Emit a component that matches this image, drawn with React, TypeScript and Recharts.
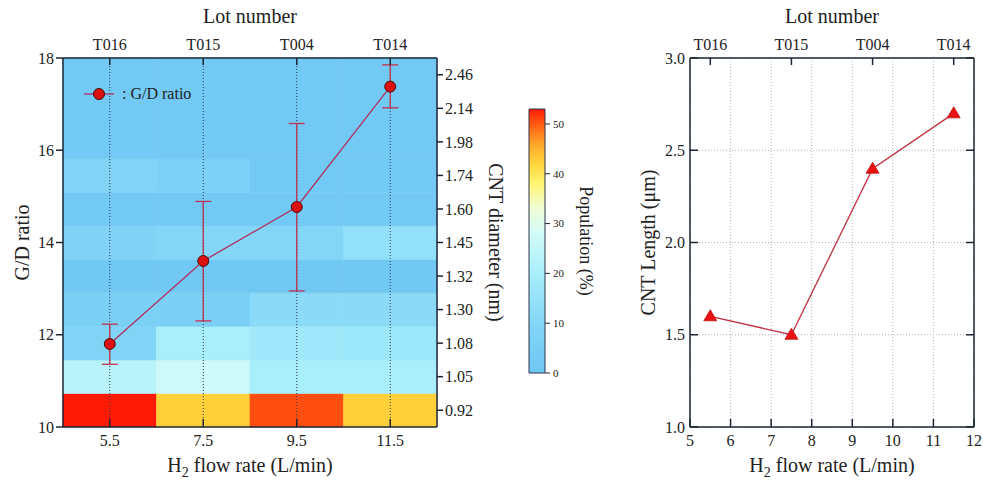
import React from 'react';
import {
  ComposedChart,
  Line,
  XAxis,
  YAxis,
  ReferenceArea,
  ReferenceLine,
  ErrorBar,
  CartesianGrid,
  Label,
} from 'recharts';

// ---------------- data ----------------
const flowRates = [5.5, 7.5, 9.5, 11.5];
const lotNumbers = ['T016', 'T015', 'T004', 'T014'];
const gdRatio = [11.8, 13.6, 14.77, 17.38];
const gdLow = [11.36, 12.3, 12.95, 16.92];
const gdHigh = [12.23, 14.89, 16.58, 17.85];
const cntLength = [1.6, 1.5, 2.4, 2.7];

const diameterLabels = ['0.92', '1.05', '1.08', '1.30', '1.32', '1.45', '1.60', '1.74', '1.98', '2.14', '2.46'];
const populationT016 = [53, 23, 9, 6, 1, 8, 2, 9, 2, 2, 2];
const populationT015 = [42.5, 27, 20, 6, 1, 10, 2, 7, 2, 2, 2];
const populationT004 = [50.5, 20, 18, 12, 1, 10, 2, 2, 2, 2, 2];
const populationT014 = [42.5, 20, 17, 12, 1, 14, 2, 2, 2, 2, 2];
const populationByLot = [populationT016, populationT015, populationT004, populationT014];

const gdTicks = [10, 12, 14, 16, 18];
const lengthTicks = [1.0, 1.5, 2.0, 2.5, 3.0];
const flowTicksRight = [5, 6, 7, 8, 9, 10, 11, 12];
const colorbarTicks = [0, 10, 20, 30, 40, 50];
const populationMax = 53;

const colorStops: [number, string][] = [
  [0, '#6ec6f3'],
  [10, '#84d6f7'],
  [20, '#a8eefb'],
  [28, '#d2fbf8'],
  [33, '#effdd8'],
  [38, '#fff572'],
  [42, '#ffd63c'],
  [46, '#ffa52a'],
  [50, '#ff5a12'],
  [53, '#ff1a06'],
];

// ---------------- helpers ----------------
const FONT = 'Liberation Serif';
const FRAME = '#1c2636';
const TXT = '#222';

const hexToRgb = (h: string) => [
  parseInt(h.slice(1, 3), 16),
  parseInt(h.slice(3, 5), 16),
  parseInt(h.slice(5, 7), 16),
];

const popColor = (v: number) => {
  if (v <= colorStops[0][0]) return colorStops[0][1];
  for (let i = 1; i < colorStops.length; i++) {
    const [v1, c1] = colorStops[i];
    const [v0, c0] = colorStops[i - 1];
    if (v <= v1) {
      const t = (v - v0) / (v1 - v0);
      const a = hexToRgb(c0);
      const b = hexToRgb(c1);
      const m = a.map((x, k) => Math.round(x + (b[k] - x) * t));
      return `rgb(${m[0]},${m[1]},${m[2]})`;
    }
  }
  return colorStops[colorStops.length - 1][1];
};

const gdData = flowRates.map((f, i) => ({
  flow: f,
  gd: gdRatio[i],
  gdErr: [gdRatio[i] - gdLow[i], gdHigh[i] - gdRatio[i]],
}));

const lengthData = flowRates.map((f, i) => ({ flow: f, len: cntLength[i] }));
const colorbarData = [{ x: 0, v: 0 }, { x: 1, v: populationMax }];

const halfStep = (flowRates[1] - flowRates[0]) / 2;
const rowTicks = diameterLabels.map((_, i) => i + 0.5);

const lotFormatter = (v: number) => lotNumbers[flowRates.indexOf(v)] ?? '';

const tickStyle = { fontSize: 16, fill: TXT, fontFamily: FONT };
const lotTickStyle = { fontSize: 16, fill: TXT, fontFamily: FONT };
const lineStyle = { stroke: FRAME, strokeWidth: 1.5 };

const H2Title = () => (
  <>
    <tspan>H</tspan>
    <tspan fontSize={14} dy={5}>2</tspan>
    <tspan dy={-5}> flow rate (L/min)</tspan>
  </>
);

const hTitle = (children: React.ReactNode, dy: number, fb: any) => (props: any) => {
  const vb = props?.viewBox ?? fb;
  return (
    <text
      x={vb.x + vb.width / 2}
      y={vb.y + dy}
      textAnchor="middle"
      fontSize={20}
      fontFamily={FONT}
      fill={TXT}
    >
      {children}
    </text>
  );
};

const vTitle = (children: React.ReactNode, dx: number, angle: number, fb: any, size = 20) => (props: any) => {
  const vb = props?.viewBox ?? fb;
  const cx = vb.x + dx;
  const cy = vb.y + vb.height / 2;
  return (
    <text
      x={cx}
      y={cy}
      transform={`rotate(${angle}, ${cx}, ${cy})`}
      textAnchor="middle"
      dominantBaseline="central"
      fontSize={size}
      fontFamily={FONT}
      fill={TXT}
    >
      {children}
    </text>
  );
};

const Triangle = (props: any) => {
  const { cx, cy } = props;
  if (cx == null || cy == null) return null;
  return (
    <polygon
      points={`${cx},${cy - 6.5} ${cx - 6.5},${cy + 4.5} ${cx + 6.5},${cy + 4.5}`}
      fill="#e81212"
      stroke="#c01010"
      strokeWidth={0.8}
    />
  );
};

// ---------------- charts ----------------
const LeftChart = () => (
  <ComposedChart width={557} height={484} data={gdData} margin={{ top: 0, right: 0, bottom: 0, left: 0 }}>
    <XAxis
      xAxisId="bottom"
      dataKey="flow"
      type="number"
      domain={[4.5, 12.5]}
      ticks={flowRates}
      orientation="bottom"
      height={57}
      tickSize={-8}
      tickMargin={16}
      tick={tickStyle}
      axisLine={lineStyle}
      tickLine={lineStyle}
      allowDataOverflow
    >
      <Label content={hTitle(<H2Title />, 45, { x: 63, y: 427, width: 374, height: 57 })} />
    </XAxis>
    <XAxis
      xAxisId="top"
      dataKey="flow"
      type="number"
      domain={[4.5, 12.5]}
      ticks={flowRates}
      orientation="top"
      height={58}
      tickSize={-7}
      tickMargin={15}
      tick={lotTickStyle}
      tickFormatter={lotFormatter}
      axisLine={lineStyle}
      tickLine={lineStyle}
      allowDataOverflow
    >
      <Label content={hTitle('Lot number', 23, { x: 63, y: 0, width: 374, height: 58 })} />
    </XAxis>
    <YAxis
      yAxisId="left"
      type="number"
      domain={[10, 18]}
      ticks={gdTicks}
      width={63}
      tickSize={7}
      tickMargin={2}
      tick={tickStyle}
      axisLine={lineStyle}
      tickLine={lineStyle}
      allowDataOverflow
    >
      <Label content={vTitle('G/D ratio', 22, -90, { x: 0, y: 58, width: 63, height: 369 })} />
    </YAxis>
    <YAxis
      yAxisId="right"
      orientation="right"
      type="number"
      domain={[0, diameterLabels.length]}
      ticks={rowTicks}
      tickFormatter={(v: number) => diameterLabels[Math.floor(v)]}
      width={120}
      tickSize={6}
      tickMargin={2}
      tick={tickStyle}
      axisLine={lineStyle}
      tickLine={lineStyle}
      allowDataOverflow
    >
      <Label content={vTitle('CNT diameter (nm)', 59, 90, { x: 437, y: 58, width: 120, height: 369 })} />
    </YAxis>

    {lotNumbers.map((lot, c) =>
      populationByLot[c].map((p, r) => (
        <ReferenceArea
          key={`${lot}-${r}`}
          xAxisId="bottom"
          yAxisId="right"
          x1={flowRates[c] - halfStep}
          x2={flowRates[c] + halfStep}
          y1={r}
          y2={r + 1}
          fill={popColor(p)}
          fillOpacity={1}
          stroke={popColor(p)}
          strokeWidth={0.6}
          ifOverflow="visible"
        />
      ))
    )}
    {flowRates.map((f) => (
      <ReferenceLine
        key={`v-${f}`}
        xAxisId="bottom"
        yAxisId="left"
        x={f}
        stroke="#2a3650"
        strokeDasharray="1 2"
        strokeWidth={1}
      />
    ))}
    <Line
      xAxisId="bottom"
      yAxisId="left"
      dataKey="gd"
      stroke="#b03060"
      strokeWidth={1.3}
      dot={{ r: 5.5, fill: '#dd1010', stroke: '#4a0a0a', strokeWidth: 1 }}
      activeDot={false}
      isAnimationActive={false}
    >
      <ErrorBar dataKey="gdErr" width={8} stroke="#c43050" strokeWidth={1.3} direction="y" />
    </Line>
  </ComposedChart>
);

const ColorBar = () => (
  <ComposedChart
    width={120}
    height={484}
    data={colorbarData}
    margin={{ top: 109, right: 0, bottom: 111, left: 29 }}
  >
    <defs>
      <linearGradient id="popGrad" x1="0" y1="1" x2="0" y2="0">
        {colorStops.map(([v, c]) => (
          <stop key={v} offset={v / populationMax} stopColor={c} />
        ))}
      </linearGradient>
    </defs>
    <XAxis xAxisId="cb" type="number" dataKey="x" domain={[0, 1]} hide />
    <YAxis
      yAxisId="cb"
      orientation="right"
      type="number"
      domain={[0, populationMax]}
      ticks={colorbarTicks}
      width={75}
      tickSize={5}
      tickMargin={3}
      tick={{ fontSize: 11, fill: TXT, fontFamily: FONT }}
      axisLine={false}
      tickLine={{ stroke: FRAME, strokeWidth: 1 }}
      allowDataOverflow
    >
      <Label content={vTitle('Population (%)', 41, 90, { x: 45, y: 109, width: 75, height: 264 }, 18)} />
    </YAxis>
    <ReferenceArea
      xAxisId="cb"
      yAxisId="cb"
      x1={0}
      x2={1}
      y1={0}
      y2={populationMax}
      fill="url(#popGrad)"
      fillOpacity={1}
      stroke="#2a3448"
      strokeWidth={1}
    />
    <Line
      xAxisId="cb"
      yAxisId="cb"
      dataKey="v"
      stroke="none"
      dot={false}
      activeDot={false}
      isAnimationActive={false}
    />
  </ComposedChart>
);

const RightChart = () => (
  <ComposedChart width={363} height={484} data={lengthData} margin={{ top: 0, right: 0, bottom: 0, left: 0 }}>
    <CartesianGrid xAxisId="bottom" yAxisId="left" stroke="#b4b4b4" strokeDasharray="1 2" />
    <XAxis
      xAxisId="bottom"
      dataKey="flow"
      type="number"
      domain={[5, 12]}
      ticks={flowTicksRight}
      orientation="bottom"
      height={57}
      tickSize={-8}
      tickMargin={16}
      tick={tickStyle}
      axisLine={lineStyle}
      tickLine={lineStyle}
      allowDataOverflow
    >
      <Label content={hTitle(<H2Title />, 45, { x: 70, y: 427, width: 284, height: 57 })} />
    </XAxis>
    <XAxis
      xAxisId="top"
      dataKey="flow"
      type="number"
      domain={[5, 12]}
      ticks={flowRates}
      orientation="top"
      height={58}
      tickSize={-7}
      tickMargin={15}
      tick={lotTickStyle}
      tickFormatter={lotFormatter}
      axisLine={lineStyle}
      tickLine={lineStyle}
      allowDataOverflow
    >
      <Label content={hTitle('Lot number', 23, { x: 70, y: 0, width: 284, height: 58 })} />
    </XAxis>
    <YAxis
      yAxisId="left"
      type="number"
      domain={[1, 3]}
      ticks={lengthTicks}
      tickFormatter={(v: number) => v.toFixed(1)}
      width={70}
      tickSize={-8}
      tickMargin={13}
      tick={tickStyle}
      axisLine={lineStyle}
      tickLine={lineStyle}
      allowDataOverflow
    >
      <Label content={vTitle('CNT Length (μm)', 28, -90, { x: 0, y: 58, width: 70, height: 369 })} />
    </YAxis>
    <YAxis
      yAxisId="right"
      orientation="right"
      type="number"
      domain={[1, 3]}
      ticks={lengthTicks}
      tickFormatter={() => ''}
      width={9}
      tickSize={-8}
      tickMargin={0}
      tick={tickStyle}
      axisLine={lineStyle}
      tickLine={lineStyle}
      allowDataOverflow
    />
    <Line
      xAxisId="bottom"
      yAxisId="left"
      dataKey="len"
      stroke="#c03040"
      strokeWidth={1.3}
      dot={<Triangle />}
      activeDot={false}
      isAnimationActive={false}
    />
  </ComposedChart>
);

export default function App() {
  return (
    <div
      style={{
        position: 'absolute',
        left: 0,
        top: 0,
        width: 983,
        height: 484,
        background: '#fff',
        fontFamily: FONT,
        overflow: 'hidden',
      }}
    >
      <div style={{ position: 'absolute', left: 0, top: 0 }}>
        <LeftChart />
      </div>
      <div style={{ position: 'absolute', left: 500, top: 0 }}>
        <ColorBar />
      </div>
      <div style={{ position: 'absolute', left: 620, top: 0 }}>
        <RightChart />
      </div>
      <div
        style={{
          position: 'absolute',
          left: 83,
          top: 84,
          display: 'flex',
          alignItems: 'center',
          fontSize: 16,
          color: TXT,
          fontFamily: FONT,
        }}
      >
        <svg width={32} height={20}>
          <line x1={1} y1={10} x2={31} y2={10} stroke="#b03060" strokeWidth={1.3} />
          <circle cx={16} cy={10} r={5.5} fill="#dd1010" stroke="#4a0a0a" strokeWidth={1} />
        </svg>
        <span style={{ marginLeft: 7 }}>: G/D ratio</span>
      </div>
    </div>
  );
}
